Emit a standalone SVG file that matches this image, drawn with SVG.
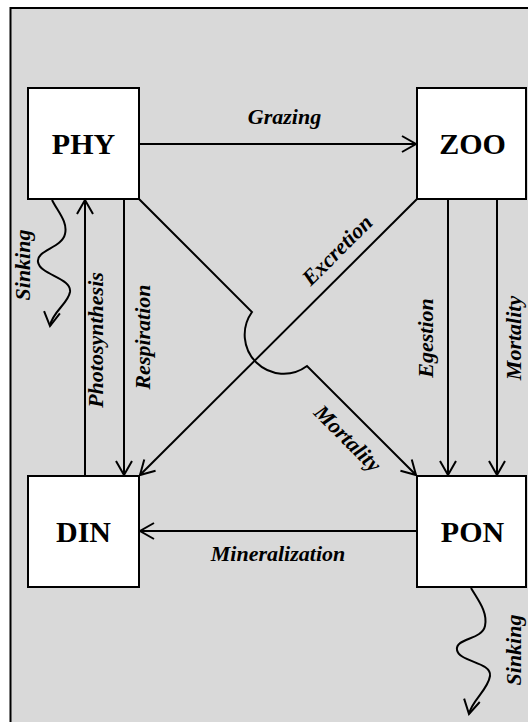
<svg xmlns="http://www.w3.org/2000/svg" width="528" height="722" viewBox="0 0 528 722">
<style>
.box{fill:#fff;stroke:#000;stroke-width:2}
.node{font-family:"Liberation Serif","Times New Roman",serif;font-weight:bold;font-size:30px;text-anchor:middle;fill:#000}
.lbl{font-family:"Liberation Serif","Times New Roman",serif;font-weight:bold;font-style:italic;font-size:22px;text-anchor:middle;fill:#000}
.ln{fill:none;stroke:#000;stroke-width:2;marker-end:url(#arr)}
.pl{fill:none;stroke:#000;stroke-width:2}
</style>
<defs>
<marker id="arr" markerUnits="userSpaceOnUse" markerWidth="20" markerHeight="20" viewBox="0 0 20 20" refX="15" refY="9" orient="auto">
<path d="M1,1 L15,9 L1,17" fill="none" stroke="#000" stroke-width="2"/>
</marker>
</defs>
<rect x="0" y="0" width="528" height="722" fill="#fff"/>
<rect x="10.5" y="8" width="540" height="740" fill="#d9d9d9" stroke="#000" stroke-width="2"/>

<g id="connectors">
<path id="grazing" class="ln" d="M139,144 H416"/>
<path id="mineralization" class="ln" d="M417,531 H140"/>
<path id="photosynthesis" class="ln" d="M85,476 V200"/>
<path id="respiration" class="ln" d="M124,199 V475"/>
<path id="excretion" class="ln" d="M417,199 L140,475"/>
<path id="phy-mortality" class="ln" d="M139,199 L252,312 A39,39 0 0 0 307,366 L416,475"/>
<path id="egestion" class="ln" d="M448,199 V475"/>
<path id="zoo-mortality" class="ln" d="M497,199 V475"/>
<path id="phy-sinking" class="ln" d="M52,200 C58,212 68,222 65,234 C62,248 36,250 38,262 C40,275 72,278 70,292 C68,304 52,312 50,326"/>
<path id="pon-sinking" class="ln" d="M471,588 C478,600 488,612 485,626 C482,640 455,638 457,650 C459,662 492,662 490,676 C488,690 472,700 469,714"/>
</g>

<g id="labels">
<text class="lbl" x="284.5" y="124">Grazing</text>
<text class="lbl" x="278" y="561">Mineralization</text>
<text class="lbl" transform="translate(103,340) rotate(-90)">Photosynthesis</text>
<text class="lbl" transform="translate(150,337) rotate(-90)">Respiration</text>
<text class="lbl" transform="translate(30,265) rotate(-90)">Sinking</text>
<text class="lbl" transform="translate(521,650) rotate(-90)">Sinking</text>
<text class="lbl" transform="translate(433,338) rotate(-90)">Egestion</text>
<text class="lbl" transform="translate(521,338) rotate(-90)">Mortality</text>
<text class="lbl" transform="translate(342.3,255.3) rotate(-45)">Excretion</text>
<text class="lbl" transform="translate(342.5,443.5) rotate(45)">Mortality</text>
</g>

<g id="PHY">
<rect class="box" x="28" y="88" width="111" height="111"/>
<text class="node" x="83.5" y="154">PHY</text>
</g>
<g id="ZOO">
<rect class="box" x="417" y="88" width="109" height="111"/>
<text class="node" x="472.5" y="154">ZOO</text>
</g>
<g id="DIN">
<rect class="box" x="28" y="476" width="111" height="111"/>
<text class="node" x="83.5" y="542">DIN</text>
</g>
<g id="PON">
<rect class="box" x="417" y="476" width="109" height="111"/>
<text class="node" x="472.5" y="542">PON</text>
</g>
</svg>
